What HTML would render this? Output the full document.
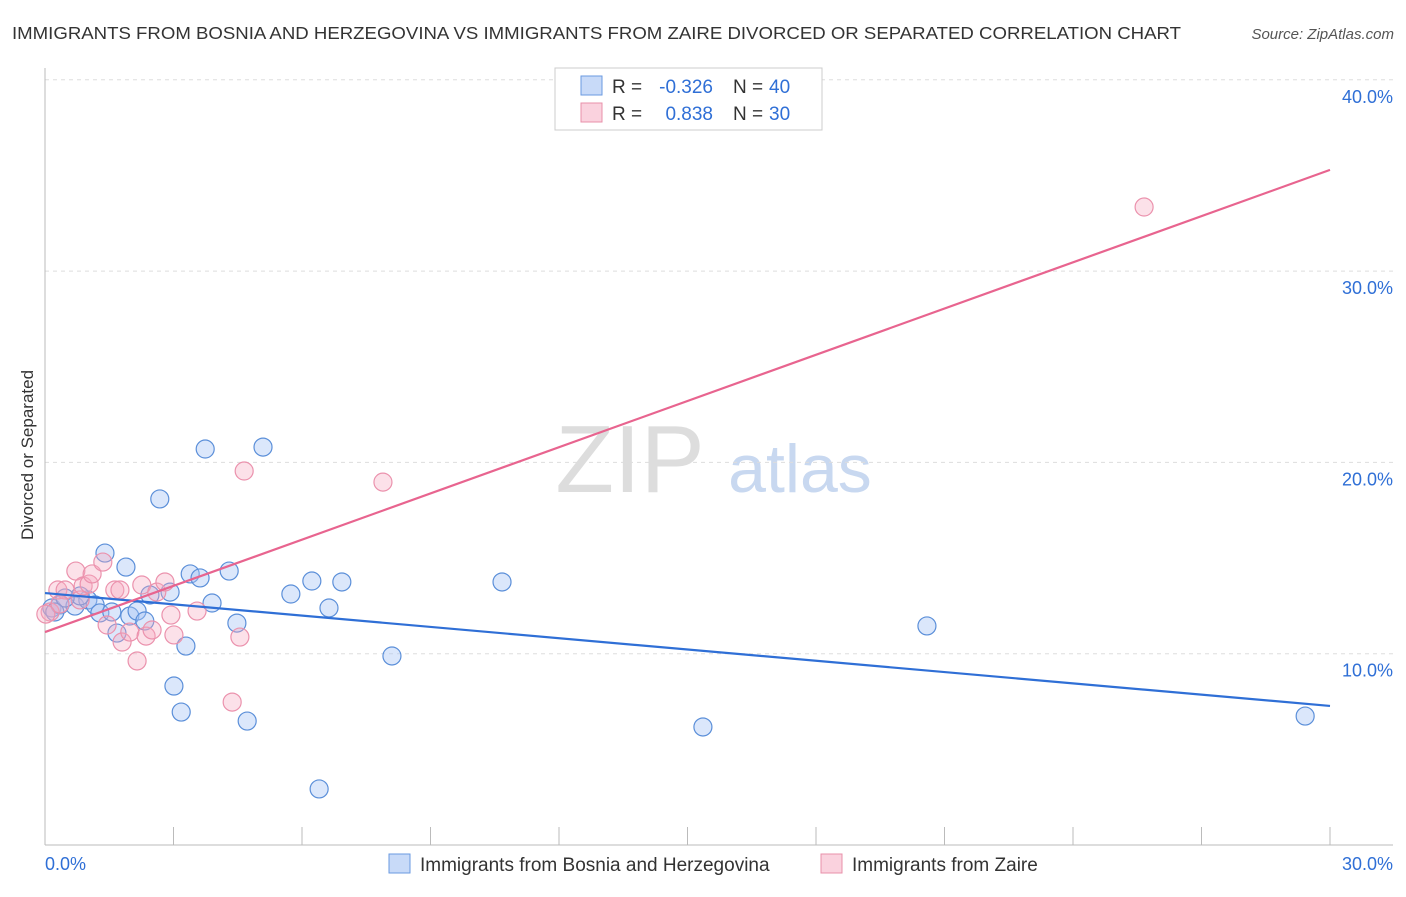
<!DOCTYPE html>
<html><head><meta charset="utf-8"><style>
body{margin:0;background:#fff;font-family:"Liberation Sans",sans-serif}
svg text{font-family:"Liberation Sans",sans-serif}
</style></head><body>
<svg id="chart" width="1406" height="892">
<text x="12" y="39" font-size="17.5" fill="#333" textLength="1169" lengthAdjust="spacingAndGlyphs">IMMIGRANTS FROM BOSNIA AND HERZEGOVINA VS IMMIGRANTS FROM ZAIRE DIVORCED OR SEPARATED CORRELATION CHART</text>
<text x="1394" y="39" font-size="15" fill="#555" font-style="italic" text-anchor="end">Source: ZipAtlas.com</text>
<text x="630" y="492" font-size="96" fill="#ddd" font-family="Liberation Serif,serif" text-anchor="middle">ZIP</text>
<text x="800" y="492" font-size="68" fill="#c8d8f0" text-anchor="middle">atlas</text>
<text transform="translate(33,455) rotate(-90)" font-size="17" fill="#333" text-anchor="middle">Divorced or Separated</text>
<g id="grid"></g><g id="axes"></g><g id="marks"></g>
<g>
<rect x="555" y="68" width="267" height="62" fill="#fff" stroke="#ccc"/>
<rect x="581" y="76" width="21" height="19" fill="rgba(164,194,244,0.6)" stroke="#6a9ae0"/>
<rect x="581" y="103" width="21" height="19" fill="rgba(246,180,200,0.6)" stroke="#e890aa"/>
<text x="612" y="93" font-size="19" fill="#333">R =</text>
<text x="713" y="93" font-size="19" fill="#2f6fd6" text-anchor="end">-0.326</text>
<text x="733" y="93" font-size="19" fill="#333">N =</text>
<text x="769" y="93" font-size="19" fill="#2f6fd6">40</text>
<text x="612" y="120" font-size="19" fill="#333">R =</text>
<text x="713" y="120" font-size="19" fill="#2f6fd6" text-anchor="end">0.838</text>
<text x="733" y="120" font-size="19" fill="#333">N =</text>
<text x="769" y="120" font-size="19" fill="#2f6fd6">30</text>
</g>
<g>
<rect x="389" y="854" width="21" height="19" fill="rgba(164,194,244,0.6)" stroke="#6a9ae0"/>
<text x="420" y="871" font-size="19" fill="#333">Immigrants from Bosnia and Herzegovina</text>
<rect x="821" y="854" width="21" height="19" fill="rgba(246,180,200,0.6)" stroke="#e890aa"/>
<text x="852" y="871" font-size="19" fill="#333">Immigrants from Zaire</text>
</g>
</svg>
<script>
const yTicks=[10,20,30,40];
const xTickLabels=["0.0%","30.0%"];
const blueX=[.16,.35,.70,1.00,1.17,1.28,1.40,1.56,1.68,1.89,1.98,2.15,2.33,2.45,2.68,2.92,3.01,3.18,3.29,3.39,3.62,3.74,3.90,4.30,4.48,4.72,5.09,5.74,6.23,6.40,6.63,6.93,8.10,10.67,15.36,20.59,29.42,.82,.47,.23];
const blueY=[12.39,12.55,12.49,12.81,12.55,12.13,15.26,12.18,11.08,14.53,11.97,12.23,11.71,13.07,18.09,13.22,8.31,6.95,10.40,14.17,13.96,20.70,12.65,14.32,11.60,6.48,20.80,13.12,13.80,2.93,12.39,13.75,9.88,13.75,6.17,11.45,6.74,13.02,12.91,12.18];
const pinkX=[.12,.30,.47,.72,.82,.89,1.03,1.10,1.35,1.45,1.63,1.75,1.80,1.98,2.15,2.26,2.36,2.50,2.61,2.80,2.94,3.01,3.55,4.37,4.55,4.65,7.89,25.66,.35,.02];
const pinkY=[12.18,13.33,13.33,14.32,12.81,13.54,13.64,14.17,14.79,11.50,13.33,13.33,10.61,11.13,9.62,13.59,10.92,11.24,13.22,13.75,12.02,10.98,12.23,7.47,10.87,19.55,18.97,33.35,12.60,12.07];
const blueTrend=[13.17,7.27];
const pinkTrend=[11.13,35.29];
const trendX=[0,30];
const X=v=>45+v*1285/30, Y=v=>845-v*19.13;
const NS="http://www.w3.org/2000/svg";
function mk(p,t,a){const e=document.createElementNS(NS,t);for(const k in a)e.setAttribute(k,a[k]);document.getElementById(p).appendChild(e);return e;}
yTicks.forEach(t=>{
 const l=mk('grid','line',{x1:45,x2:1393,y1:Y(t),y2:Y(t),stroke:'#ddd','stroke-dasharray':'4,4'});
 
 
 const tx=mk('grid','text',{x:1393,y:Y(t)+23,'font-size':18,fill:'#2f6fd6','text-anchor':'end'});
 tx.textContent=t.toFixed(1)+'%';
 
 
});
const ax=mk('axes','line',{x1:45,x2:45,y1:68,y2:845,stroke:'#bbb'});


const bx=mk('axes','line',{x1:45,x2:1393,y1:845,y2:845,stroke:'#bbb'});


for(let i=0;i<=10;i++){const tk=mk('axes','line',{x1:X(i*3),x2:X(i*3),y1:827,y2:845,stroke:'#bbb'});
 
 }
[[0,'start',45],[30,'end',1393]].forEach((d,i)=>{const t=mk('axes','text',{x:d[2],y:870,'font-size':18,fill:'#2f6fd6','text-anchor':d[1]});t.textContent=xTickLabels[i];
 
 });
blueX.forEach((v,i)=>{const c=mk('marks','circle',{cx:X(v),cy:Y(blueY[i]),r:9,fill:'rgba(164,194,244,0.4)',stroke:'#5b8fd9','stroke-width':1.2});
 
 });
pinkX.forEach((v,i)=>{const c=mk('marks','circle',{cx:X(v),cy:Y(pinkY[i]),r:9,fill:'rgba(246,170,192,0.35)',stroke:'#eb92ad','stroke-width':1.2});
 
 });
const bl=mk('marks','line',{x1:X(trendX[0]),y1:Y(blueTrend[0]),x2:X(trendX[1]),y2:Y(blueTrend[1]),stroke:'#2f6fd6','stroke-width':2.2});


const pl=mk('marks','line',{x1:X(trendX[0]),y1:Y(pinkTrend[0]),x2:X(trendX[1]),y2:Y(pinkTrend[1]),stroke:'#e8648f','stroke-width':2.2});


</script>
</body></html>
